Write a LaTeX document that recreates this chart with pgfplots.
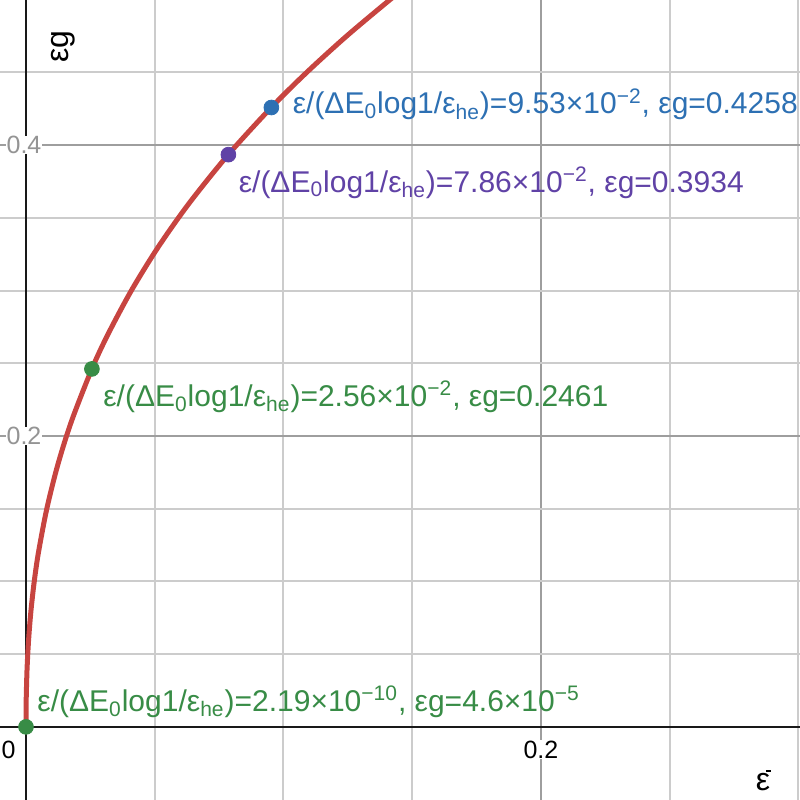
\documentclass[border=0pt]{standalone}
\usepackage{fontspec}
\setmainfont{Liberation Sans}
\usepackage{pgfplots}
\pgfplotsset{compat=1.18}

\definecolor{dred}{HTML}{C74440}
\definecolor{dgreen}{HTML}{388C46}
\definecolor{dblue}{HTML}{2D70B3}
\definecolor{dpurple}{HTML}{6042A6}

% label text of one point: #1 = ratio, #2 = eps_g
\newcommand{\ptlabel}[2]{ε/(ΔE\textsubscript{0}log1/ε\textsubscript{he})=#1, εg=#2}

\begin{document}
\begin{tikzpicture}
  \begin{axis}[
      name=ax,
      width=400pt, height=400pt, scale only axis,
      xmin=-0.0101, xmax=0.3006,
      ymin=-0.0502, ymax=0.4997,
      axis lines=middle,
      axis line style={-, black!90, line width=1.3pt},
      xtick={0.2}, ytick={0.2,0.4},
      minor xtick={0.05,0.1,0.15,0.25,0.3},
      minor ytick={0.05,0.1,0.15,0.25,0.3,0.35,0.45},
      grid=both,
      major grid style={draw=black!38, line width=1pt},
      minor grid style={draw=black!20, line width=1pt},
      major tick length=0pt, minor tick length=0pt,
      /pgf/number format/assume math mode=true,
      xticklabel style={anchor=center, yshift=-11.5pt, font=\fontsize{12.5}{14}\selectfont, fill=white, inner sep=0.3pt},
      yticklabel style={anchor=center, xshift=-1pt, font=\fontsize{12.5}{14}\selectfont, text=black!42, fill=white, inner sep=0.3pt},
      xticklabels={0.2}, yticklabels={0.2,0.4},
    ]
    % curve
    \addplot[smooth, tension=0.5, color=dred, line width=2.5pt] coordinates {
      (0,0) (0.0000044,0.005) (0.0000197,0.01) (0.0000891,0.02) (0.000410,0.04)
      (0.001012,0.06) (0.001930,0.08) (0.003197,0.10) (0.004842,0.12)
      (0.008079,0.15) (0.012315,0.18) (0.017633,0.21) (0.025587,0.2461)
      (0.031862,0.27) (0.040928,0.30) (0.051392,0.33) (0.063374,0.36)
      (0.07856,0.3934) (0.09525,0.4258) (0.10906,0.45) (0.12459,0.475)
      (0.14143,0.50) (0.14855,0.51)
    };
    \addplot[only marks, mark=*, mark size=3.7pt, color=dgreen] coordinates {(2.19e-10,4.6e-5) (0.0256,0.2461)};
    \addplot[only marks, mark=*, mark size=3.7pt, color=dpurple] coordinates {(0.0786,0.3934)};
    \addplot[only marks, mark=*, mark size=3.7pt, color=dblue] coordinates {(0.0953,0.4258)};

    \begin{scope}[every node/.style={inner sep=0pt, anchor=west, font=\fontsize{15}{17}\selectfont}]
      \node[text=dblue, xshift=10.5pt, yshift=1.5pt] at (axis cs:0.0953,0.4258) {\ptlabel{9.53×10\textsuperscript{−2}}{0.4258}};
      \node[text=dpurple, xshift=5pt, yshift=-14pt] at (axis cs:0.0786,0.3934) {\ptlabel{7.86×10\textsuperscript{−2}}{0.3934}};
      \node[text=dgreen, xshift=5.5pt, yshift=-14pt] at (axis cs:0.0256,0.2461) {\ptlabel{2.56×10\textsuperscript{−2}}{0.2461}};
      \node[text=dgreen, xshift=5.5pt, yshift=12.5pt] at (axis cs:0,0) {\ptlabel{2.19×10\textsuperscript{−10}}{4.6×10\textsuperscript{−5}}};
    \end{scope}

    \node[font=\fontsize{12.5}{14}\selectfont, inner sep=0pt] at (rel axis cs:0.0106,0.0625) {0};
    \node[font=\fontsize{16}{18}\selectfont, rotate=90, inner sep=0pt] at (rel axis cs:0.0794,0.9413) {εg};
    \node[font=\fontsize{16}{18}\selectfont, inner sep=0pt] (xl) at (rel axis cs:0.9538,0.0225) {ε};
  \end{axis}
  \draw[line width=0.9pt] ([xshift=-2.4pt, yshift=1pt]xl.north east) -- ++(2.6pt,0);
  \pgfresetboundingbox
  \path[use as bounding box] (ax.south west) rectangle (ax.north east);
\end{tikzpicture}
\end{document}
